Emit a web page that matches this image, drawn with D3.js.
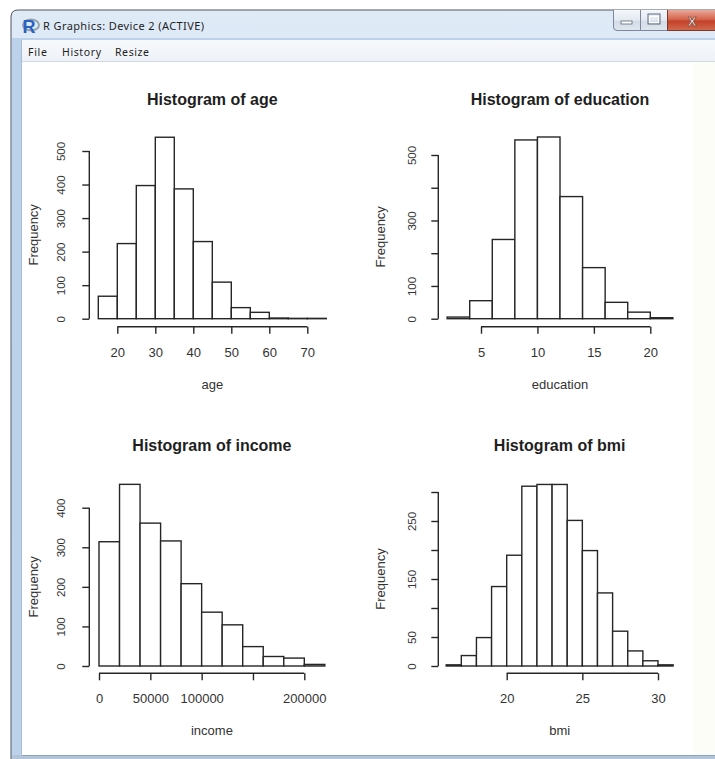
<!DOCTYPE html>
<html>
<head>
<meta charset="utf-8">
<script src="https://cdn.jsdelivr.net/npm/d3@7"></script>
<style>
  html, body { margin: 0; padding: 0; background: #ffffff; }
  svg { display: block; }
</style>
</head>
<body>
<svg id="chart" width="715" height="759"></svg>
<script>
// ---------------- data ----------------
const ageBreaks = [15, 20, 25, 30, 35, 40, 45, 50, 55, 60, 65, 70, 75];
const ageCounts = [67, 224, 397, 541, 387, 230, 109, 33, 19, 2, 1, 1];
const ageXTicks = [20, 30, 40, 50, 60, 70];
const ageXTickLabels = ["20", "30", "40", "50", "60", "70"];
const ageYTicks = [0, 100, 200, 300, 400, 500];
const ageYTickLabels = ["0", "100", "200", "300", "400", "500"];

const educationBreaks = [2, 4, 6, 8, 10, 12, 14, 16, 18, 20, 22];
const educationCounts = [5, 55, 242, 546, 555, 373, 156, 50, 20, 3];
const educationXTicks = [5, 10, 15, 20];
const educationXTickLabels = ["5", "10", "15", "20"];
const educationYTicks = [0, 100, 200, 300, 400, 500];
const educationYTickLabels = ["0", "100", "", "300", "", "500"];

const incomeBreaks = [0, 20000, 40000, 60000, 80000, 100000, 120000, 140000, 160000, 180000, 200000, 220000];
const incomeCounts = [314, 459, 361, 316, 208, 136, 104, 49, 24, 20, 4];
const incomeXTicks = [0, 50000, 100000, 150000, 200000];
const incomeXTickLabels = ["0", "50000", "100000", "", "200000"];
const incomeYTicks = [0, 100, 200, 300, 400];
const incomeYTickLabels = ["0", "100", "200", "300", "400"];

const bmiBreaks = [16, 17, 18, 19, 20, 21, 22, 23, 24, 25, 26, 27, 28, 29, 30, 31];
const bmiCounts = [2, 18, 49, 137, 191, 310, 313, 313, 251, 199, 126, 60, 26, 9, 2];
const bmiXTicks = [20, 25, 30];
const bmiXTickLabels = ["20", "25", "30"];
const bmiYTicks = [0, 50, 100, 150, 200, 250, 300];
const bmiYTickLabels = ["0", "50", "", "150", "", "250", ""];

// ---------------- layout ----------------
const svg = d3.select("#chart");
const defs = svg.append("defs");

function grad(id, stops) {
  const g = defs.append("linearGradient").attr("id", id)
    .attr("x1", 0).attr("y1", 0).attr("x2", 0).attr("y2", 1);
  stops.forEach(([o, c]) => g.append("stop").attr("offset", o).attr("stop-color", c));
}
grad("titleGrad", [[0, "#dfeaf7"], [0.5, "#d2e2f4"], [1, "#c6d9ef"]]);
grad("btnGrad", [[0, "#f4f7fb"], [0.5, "#e3e9f1"], [0.55, "#d3dce8"], [1, "#dfe6ef"]]);
grad("closeGrad", [[0, "#e9a99a"], [0.45, "#d5644c"], [0.55, "#c3422a"], [1, "#d26a4e"]]);
grad("menuGrad", [[0, "#f7f9fc"], [1, "#eef2f7"]]);

// background
svg.append("rect").attr("width", 715).attr("height", 759).attr("fill", "#ffffff");

// window frame
svg.append("path")
  .attr("d", "M11,770 V17 Q11,10 18,10 H730 V770 Z")
  .attr("fill", "url(#titleGrad)").attr("stroke", "#4e5560").attr("stroke-width", 1);
svg.append("rect").attr("x", 12).attr("y", 38).attr("width", 710).attr("height", 730)
  .attr("fill", "#bcd2ea");
// menu bar
svg.append("rect").attr("x", 22).attr("y", 40).attr("width", 700).attr("height", 21)
  .attr("fill", "url(#menuGrad)");
svg.append("line").attr("x1", 22).attr("x2", 715).attr("y1", 61.5).attr("y2", 61.5)
  .attr("stroke", "#d3d9e2");
svg.append("line").attr("x1", 21.5).attr("x2", 21.5).attr("y1", 40).attr("y2", 755)
  .attr("stroke", "#a8bdd6");
// content
svg.append("rect").attr("x", 22).attr("y", 62).attr("width", 700).attr("height", 693)
  .attr("fill", "#ffffff");
svg.append("rect").attr("x", 694).attr("y", 62).attr("width", 30).attr("height", 693)
  .attr("fill", "#fdfdf8");
svg.append("rect").attr("x", 12).attr("y", 755).attr("width", 710).attr("height", 6)
  .attr("fill", "#b3c5db");
svg.append("line").attr("x1", 22).attr("x2", 715).attr("y1", 755.5).attr("y2", 755.5)
  .attr("stroke", "#8fa3bd");

// title bar icon + text
const icon = svg.append("g");
icon.append("ellipse").attr("cx", 31).attr("cy", 25).attr("rx", 8).attr("ry", 5.5)
  .attr("fill", "none").attr("stroke", "#9aa3ad").attr("stroke-width", 2);
icon.append("text").attr("x", 29).attr("y", 33).attr("text-anchor", "middle")
  .attr("font-family", "Liberation Sans, Arial, sans-serif").attr("font-weight", "bold")
  .attr("font-size", 18).attr("fill", "#2a62c0").text("R");
svg.append("text").attr("x", 43).attr("y", 30)
  .attr("font-family", "Noto Sans, Open Sans, sans-serif").attr("font-size", 11)
  .attr("fill", "#1e1e1e").attr("textLength", 161).text("R Graphics: Device 2 (ACTIVE)");

// menu text
[["File", 28, 19], ["History", 62, 39], ["Resize", 115, 34]].forEach(([t, x, w]) => {
  svg.append("text").attr("x", x).attr("y", 56)
    .attr("font-family", "Noto Sans, Open Sans, sans-serif").attr("font-size", 10.5)
    .attr("fill", "#1e1e1e").attr("textLength", w).text(t);
});

// caption buttons
const btn = svg.append("g");
btn.append("path").attr("d", "M613.5,10 V27 Q613.5,30.5 617,30.5 H640.5 V10")
  .attr("fill", "url(#btnGrad)").attr("stroke", "#7c8899");
btn.append("path").attr("d", "M640.5,10 V30.5 H667.5 V10")
  .attr("fill", "url(#btnGrad)").attr("stroke", "#7c8899");
btn.append("path").attr("d", "M667.5,10 V30.5 H720 V10")
  .attr("fill", "url(#closeGrad)").attr("stroke", "#7a3a2c");
btn.append("rect").attr("x", 621).attr("y", 21).attr("width", 11).attr("height", 3)
  .attr("fill", "#ffffff").attr("stroke", "#5d6878").attr("stroke-width", 0.8);
btn.append("rect").attr("x", 648).attr("y", 14).attr("width", 12).attr("height", 10)
  .attr("fill", "none").attr("stroke", "#5d6878").attr("stroke-width", 1);
btn.append("rect").attr("x", 649.5).attr("y", 16.5).attr("width", 9).attr("height", 6)
  .attr("fill", "none").attr("stroke", "#ffffff").attr("stroke-width", 1);
btn.append("text").attr("x", 692).attr("y", 25.5).attr("text-anchor", "middle")
  .attr("font-family", "Liberation Sans, Arial, sans-serif").attr("font-weight", "bold")
  .attr("font-size", 13).attr("fill", "#ffffff").attr("stroke", "#6b3326")
  .attr("stroke-width", 0.6).text("X");

// ---------------- histograms ----------------
const panels = [
  { title: "Histogram of age", xlab: "age", breaks: ageBreaks, counts: ageCounts,
    xTicks: ageXTicks, xLabels: ageXTickLabels, yTicks: ageYTicks, yLabels: ageYTickLabels,
    xd: [20, 70], xr: [117.3, 307.3], yd: [0, 500], yr: [318.7, 151],
    axisX: 89.3, axisY: 326.7, yLabOff: 24, ylabOff: 56 },
  { title: "Histogram of education", xlab: "education", breaks: educationBreaks, counts: educationCounts,
    xTicks: educationXTicks, xLabels: educationXTickLabels, yTicks: educationYTicks, yLabels: educationYTickLabels,
    xd: [5, 20], xr: [481, 650.3], yd: [0, 500], yr: [318.7, 155],
    axisX: 438.3, axisY: 326.7, yLabOff: 22, ylabOff: 58 },
  { title: "Histogram of income", xlab: "income", breaks: incomeBreaks, counts: incomeCounts,
    xTicks: incomeXTicks, xLabels: incomeXTickLabels, yTicks: incomeYTicks, yLabels: incomeYTickLabels,
    xd: [0, 200000], xr: [99, 304.3], yd: [0, 400], yr: [666, 507.7],
    axisX: 89.3, axisY: 673.3, yLabOff: 24, ylabOff: 56 },
  { title: "Histogram of bmi", xlab: "bmi", breaks: bmiBreaks, counts: bmiCounts,
    xTicks: bmiXTicks, xLabels: bmiXTickLabels, yTicks: bmiYTicks, yLabels: bmiYTickLabels,
    xd: [20, 30], xr: [506.7, 658], yd: [0, 300], yr: [666, 492],
    axisX: 438.3, axisY: 673.3, yLabOff: 22, ylabOff: 58 }
];

const ink = "#262626";
const rFont = "Liberation Sans, Arial, Helvetica, sans-serif";

panels.forEach(p => {
  const x = d3.scaleLinear().domain(p.xd).range(p.xr);
  const y = d3.scaleLinear().domain(p.yd).range(p.yr);
  const g = svg.append("g");

  const bins = p.counts.map((c, i) => ({ x0: p.breaks[i], x1: p.breaks[i + 1], c }));
  g.selectAll("rect.bar").data(bins).join("rect")
    .attr("class", "bar")
    .attr("x", d => x(d.x0))
    .attr("width", d => x(d.x1) - x(d.x0))
    .attr("y", d => y(d.c))
    .attr("height", d => y(0) - y(d.c))
    .attr("fill", "#ffffff")
    .attr("stroke", ink)
    .attr("stroke-width", 1.4);

  // x axis
  const xa = g.append("g").attr("transform", `translate(0,${p.axisY})`)
    .call(d3.axisBottom(x).tickValues(p.xTicks).tickSize(7).tickPadding(14)
      .tickFormat((d, i) => p.xLabels[i]));
  xa.select(".domain")
    .attr("d", `M${x(p.xTicks[0])},0H${x(p.xTicks[p.xTicks.length - 1])}`)
    .attr("stroke", ink).attr("stroke-width", 1.4);
  xa.selectAll(".tick line").attr("stroke", ink).attr("stroke-width", 1.4);
  xa.selectAll(".tick text").attr("font-family", rFont).attr("font-size", 13)
    .attr("fill", "#333333").attr("dy", null).attr("y", 30);
  xa.attr("font-size", null).attr("font-family", null);

  // y axis
  const ya = g.append("g").attr("transform", `translate(${p.axisX},0)`)
    .call(d3.axisLeft(y).tickValues(p.yTicks).tickSize(7)
      .tickFormat((d, i) => p.yLabels[i]));
  ya.select(".domain")
    .attr("d", `M0,${y(p.yTicks[0])}V${y(p.yTicks[p.yTicks.length - 1])}`)
    .attr("stroke", ink).attr("stroke-width", 1.4);
  ya.selectAll(".tick line").attr("stroke", ink).attr("stroke-width", 1.4);
  ya.selectAll(".tick text").attr("font-family", rFont).attr("font-size", 11.5)
    .attr("fill", "#333333").attr("x", null).attr("dy", null)
    .attr("text-anchor", "middle")
    .attr("transform", `translate(${-p.yLabOff},0) rotate(-90)`);
  ya.attr("font-size", null).attr("font-family", null);

  const cx = (x(p.breaks[0]) + x(p.breaks[p.breaks.length - 1])) / 2;
  const cy = (y(0) + y(p.yd[1])) / 2;

  g.append("text").attr("x", cx).attr("y", p.axisY - 222)
    .attr("text-anchor", "middle").attr("font-family", rFont)
    .attr("font-weight", "bold").attr("font-size", 16).attr("fill", "#1f1f1f")
    .text(p.title);

  g.append("text").attr("x", cx).attr("y", p.axisY + 62)
    .attr("text-anchor", "middle").attr("font-family", rFont)
    .attr("font-size", 13).attr("fill", "#333333").text(p.xlab);

  g.append("text")
    .attr("transform", `translate(${p.axisX - p.ylabOff},${cy}) rotate(-90)`)
    .attr("text-anchor", "middle").attr("dominant-baseline", "central")
    .attr("font-family", rFont).attr("font-size", 13).attr("fill", "#333333")
    .text("Frequency");
});
</script>
</body>
</html>
